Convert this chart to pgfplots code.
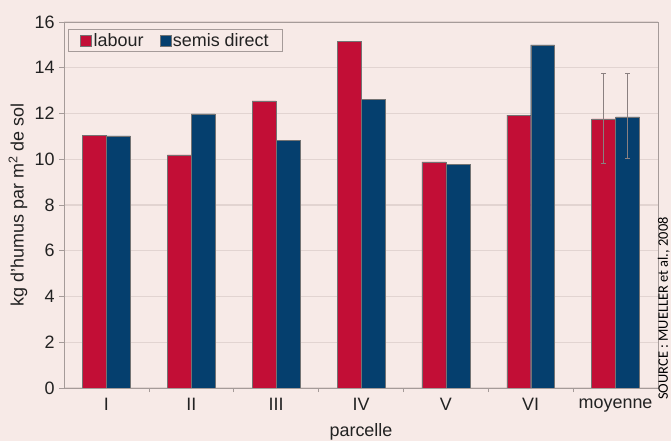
\documentclass[border=0pt]{standalone}
\usepackage{fontspec}
\setmainfont{Liberation Sans}
\newfontfamily\srcfont{Carlito}
\usepackage{pgfplots}
\pgfplotsset{compat=1.18}
\definecolor{bg}{HTML}{F7EAE7}
\definecolor{labour}{HTML}{C20E36}
\definecolor{semis}{HTML}{053F6E}
\definecolor{gridc}{HTML}{E2D4D1}
\definecolor{axc}{HTML}{A59B99}
\definecolor{errc}{HTML}{8A8080}
\definecolor{txt}{HTML}{222222}
\newcommand\chartfont{\fontsize{18}{20}\selectfont}
\begin{document}
\begin{tikzpicture}
\path[use as bounding box, fill=bg] (0bp,0bp) rectangle (671bp,441bp);
\begin{axis}[
  at={(64bp,53bp)}, anchor=south west,
  width=594bp, height=366bp, scale only axis,
  xmin=-0.5, xmax=6.5, ymin=0, ymax=16,
  ytick={0,2,...,16},
  xtick={0,...,6}, xticklabels={I,II,III,IV,V,VI,moyenne},
  minor xtick={0.5,1.5,...,5.5},
  /pgf/number format/assume math mode=true,
  ticklabel style={font=\chartfont, text=txt},
  label style={font=\chartfont, text=txt},
  axis line style={axc, line width=0.8bp},
  tick align=outside, xtick pos=bottom, ytick pos=left,
  major x tick style={draw=none},
  minor x tick style={axc, line width=0.6bp},
  minor tick length=4bp,
  major y tick style={axc, line width=0.8bp},
  major tick length=5bp,
  ymajorgrids, grid style={gridc, line width=1.2bp},
  ylabel={kg d'humus par m\textsuperscript{2} de sol},
  ylabel style={at={(axis description cs:0,0.5)}, anchor=center, rotate=0, yshift=46bp},
  xlabel={parcelle},
  xlabel style={at={(axis description cs:0.5,0)}, anchor=center, yshift=-44bp},
  yticklabel style={xshift=-1bp},
  xticklabel style={yshift=-2bp},
  legend style={at={(axis description cs:0,1)}, anchor=north west, xshift=4bp, yshift=-7bp,
    fill=bg, draw=axc, line width=0.6bp, legend columns=2,
    font=\chartfont, text=txt,
    inner xsep=12bp, inner ysep=2bp,
    /tikz/every even column/.append style={column sep=14bp}},
  legend image code/.code={\fill[#1] (0bp,-5.5bp) rectangle (11bp,5.5bp);},
  legend cell align=left,
]
\addplot[ybar, bar width=0.282, bar shift=-0.141, fill=labour, draw=black!55, line width=0.4bp]
  coordinates {(0,11.05) (1,10.19) (2,12.55) (3,15.14) (4,9.88) (5,11.93) (6,11.76)};
\addlegendentry{labour}
\addplot[ybar, bar width=0.282, bar shift=0.141, fill=semis, draw=black!55, line width=0.4bp]
  coordinates {(0,11.02) (1,11.98) (2,10.84) (3,12.63) (4,9.79) (5,15.0) (6,11.85)};
\addlegendentry{semis direct}
\addplot[forget plot, draw=none, mark=none,
  error bars/.cd, y dir=both, y explicit,
  error bar style={draw=errc, line width=0.8bp},
  error mark options={rotate=90, mark size=2.5bp, draw=errc, line width=0.8bp}]
  coordinates {(5.859,11.76) += (0,2.0) -= (0,1.92)
               (6.141,11.85) += (0,1.92) -= (0,1.8)};
\end{axis}
\node[rotate=90, anchor=south west, inner sep=0pt, font=\srcfont\fontsize{14.5}{16}\selectfont, text=black]
  at (670bp,41bp) {SOURCE : MUELLER et al., 2008};
\end{tikzpicture}
\end{document}
